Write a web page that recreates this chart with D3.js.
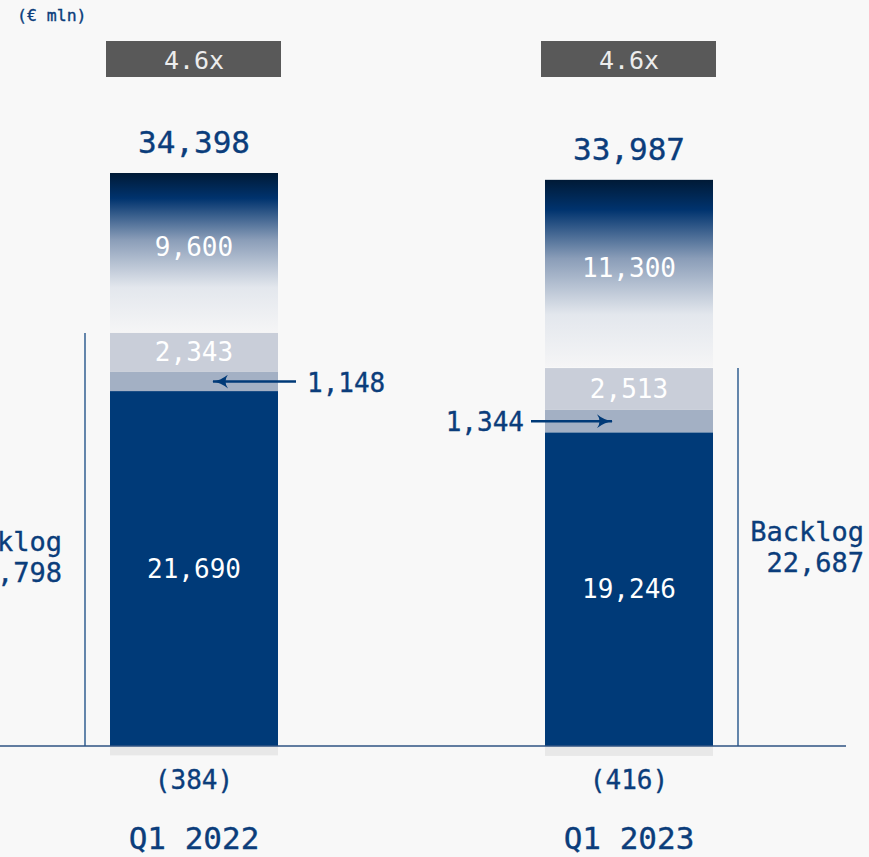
<!DOCTYPE html>
<html>
<head>
<meta charset="utf-8">
<script src="https://cdn.jsdelivr.net/npm/d3@7"></script>
<style>
  body { margin: 0; background: #f8f8f8; }
  svg { display: block; font-family: "DejaVu Sans Mono", "Liberation Mono", monospace; }
  .navy { fill: #0b3d7b; stroke: #0b3d7b; stroke-width: 0.35px; }
</style>
</head>
<body>
<div id="chart"></div>
<script>
// data (€ mln)
var periods = ["Q1 2022", "Q1 2023"];
var backlogCore = [21690, 19246];   // dark navy part
var backlogMid = [1148, 1344];      // thin band with arrow
var backlogLight = [2343, 2513];    // light band
var pipeline = [9600, 11300];       // gradient top
var negatives = [384, 416];         // shown below the axis
var totals = [34398, 33987];
var backlogTotals = [24798, 22687];
var coverage = ["4.6x", "4.6x"];

var width = 869, height = 857;
var navy = "#003a78";

var svg = d3.select("#chart").append("svg")
  .attr("width", width).attr("height", height);

svg.append("rect").attr("width", width).attr("height", height).attr("fill", "#f8f8f8");

var defs = svg.append("defs");
var grad = defs.append("linearGradient").attr("id", "pipe")
  .attr("x1", 0).attr("y1", 0).attr("x2", 0).attr("y2", 1);
[[0, "#001a36"], [0.16, "#00336e"], [0.42, "#8a9db8"], [0.72, "#e3e7ed"], [1, "#f5f5f6"]]
  .forEach(function (s) {
    grad.append("stop").attr("offset", s[0]).attr("stop-color", s[1]);
  });

defs.append("marker").attr("id", "arr")
  .attr("viewBox", "0 0 16 14").attr("refX", 15).attr("refY", 7)
  .attr("markerWidth", 16).attr("markerHeight", 14)
  .attr("markerUnits", "userSpaceOnUse").attr("orient", "auto")
  .append("path").attr("d", "M0,0 Q7,6 16,7 Q7,8 0,14 Q5,7 0,0Z").attr("fill", navy);

// scales
var x = d3.scalePoint().domain(periods).range([194, 629]);
var y = d3.scaleLinear().domain([0, 34397]).range([746, 173]);
var barW = 168;

// build stacked segments
var rows = periods.map(function (p, i) {
  var c1 = backlogCore[i] - negatives[i];
  var m1 = c1 + backlogMid[i];
  var l1 = m1 + backlogLight[i];
  var t1 = l1 + pipeline[i];
  return { p: p, i: i, c1: c1, m1: m1, l1: l1, t1: t1 };
});

// "(€ mln)"
svg.append("text").attr("x", 17).attr("y", 21).attr("class", "navy")
  .attr("font-size", 16.5).attr("stroke-width", 0.2).text("(€ mln)");

var g = svg.selectAll(".bar").data(rows).enter().append("g").attr("class", "bar");

// below-axis negative
g.append("rect")
  .attr("x", function (d) { return x(d.p) - barW / 2; })
  .attr("y", y(0))
  .attr("width", barW)
  .attr("height", function (d) { return y(-negatives[d.i]) - y(0) + 3; })
  .attr("fill", "#e8e8e8");

// core
g.append("rect")
  .attr("x", function (d) { return x(d.p) - barW / 2; })
  .attr("y", function (d) { return y(d.c1); })
  .attr("width", barW)
  .attr("height", function (d) { return y(0) - y(d.c1); })
  .attr("fill", navy);
// mid band
g.append("rect")
  .attr("x", function (d) { return x(d.p) - barW / 2; })
  .attr("y", function (d) { return y(d.m1); })
  .attr("width", barW)
  .attr("height", function (d) { return y(d.c1) - y(d.m1); })
  .attr("fill", "#a3b0c4");
// light band
g.append("rect")
  .attr("x", function (d) { return x(d.p) - barW / 2; })
  .attr("y", function (d) { return y(d.l1); })
  .attr("width", barW)
  .attr("height", function (d) { return y(d.m1) - y(d.l1); })
  .attr("fill", "#c9ced9");
// pipeline gradient
g.append("rect")
  .attr("x", function (d) { return x(d.p) - barW / 2; })
  .attr("y", function (d) { return y(d.t1); })
  .attr("width", barW)
  .attr("height", function (d) { return y(d.l1) - y(d.t1) - 1; })
  .attr("fill", "url(#pipe)");

var fmt = d3.format(",");

// inner labels
g.append("text").attr("x", function (d) { return x(d.p); })
  .attr("y", function (d) { return (y(d.t1) + y(d.l1)) / 2 - 6; })
  .text(function (d) { return fmt(pipeline[d.i]); });
g.append("text").attr("x", function (d) { return x(d.p); })
  .attr("y", function (d) { return (y(d.l1) + y(d.m1)) / 2; })
  .text(function (d) { return fmt(backlogLight[d.i]); });
g.append("text").attr("x", function (d) { return x(d.p); })
  .attr("y", function (d) { return (y(d.c1) + y(0)) / 2; })
  .text(function (d) { return fmt(backlogCore[d.i]); });
g.selectAll("text").attr("text-anchor", "middle").attr("dominant-baseline", "central")
  .attr("font-size", 26).attr("fill", "#ffffff");

// totals
g.append("text").attr("x", function (d) { return x(d.p); })
  .attr("y", function (d) { return y(d.t1) - 20; })
  .attr("text-anchor", "middle").attr("font-size", 31).attr("class", "navy")
  .text(function (d) { return fmt(totals[d.i]); });

// coverage boxes
g.append("rect").attr("x", function (d) { return x(d.p) - 88; })
  .attr("y", 41).attr("width", 175).attr("height", 36).attr("fill", "#595959");
g.append("text").attr("x", function (d) { return x(d.p); })
  .attr("y", 60).attr("text-anchor", "middle").attr("dominant-baseline", "central")
  .attr("font-size", 25).attr("fill", "#ececec")
  .text(function (d) { return coverage[d.i]; });

// negative + period labels
g.append("text").attr("x", function (d) { return x(d.p); })
  .attr("y", 780).attr("text-anchor", "middle").attr("dominant-baseline", "central")
  .attr("font-size", 26).attr("class", "navy")
  .text(function (d) { return "(" + negatives[d.i] + ")"; });
g.append("text").attr("x", function (d) { return x(d.p); })
  .attr("y", 838).attr("text-anchor", "middle").attr("dominant-baseline", "central")
  .attr("font-size", 31).attr("class", "navy")
  .text(function (d) { return d.p; });

// backlog brackets
var backlogX = [85, 738];
var backlogLabelX = [62, 864];
var backlogLabelY = [541, 531];
g.append("line")
  .attr("x1", function (d) { return backlogX[d.i]; })
  .attr("x2", function (d) { return backlogX[d.i]; })
  .attr("y1", function (d) { return y(backlogTotals[d.i]); })
  .attr("y2", y(0))
  .attr("stroke", navy).attr("stroke-width", 1.2);
var bl = g.append("text")
  .attr("text-anchor", "end")
  .attr("font-size", 27).attr("class", "navy");
bl.append("tspan")
  .attr("x", function (d) { return backlogLabelX[d.i]; })
  .attr("y", function (d) { return backlogLabelY[d.i]; })
  .attr("dominant-baseline", "central")
  .text("Backlog");
bl.append("tspan")
  .attr("x", function (d) { return backlogLabelX[d.i]; })
  .attr("y", function (d) { return backlogLabelY[d.i] + 31; })
  .attr("dominant-baseline", "central")
  .text(function (d) { return fmt(backlogTotals[d.i]); });

// arrows pointing at the mid band
g.append("line")
  .attr("x1", function (d) { return d.i === 0 ? x(d.p) + barW / 2 + 18 : x(d.p) - barW / 2 - 14; })
  .attr("x2", function (d) { return d.i === 0 ? x(d.p) + 19 : x(d.p) - 17; })
  .attr("y1", function (d) { return (y(d.c1) + y(d.m1)) / 2; })
  .attr("y2", function (d) { return (y(d.c1) + y(d.m1)) / 2; })
  .attr("stroke", navy).attr("stroke-width", 2.5)
  .attr("marker-end", "url(#arr)");
g.append("text")
  .attr("x", function (d) { return d.i === 0 ? x(d.p) + barW / 2 + 29 : x(d.p) - barW / 2 - 21; })
  .attr("y", function (d) { return (y(d.c1) + y(d.m1)) / 2 + 1; })
  .attr("text-anchor", function (d) { return d.i === 0 ? "start" : "end"; })
  .attr("dominant-baseline", "central")
  .attr("font-size", 26).attr("class", "navy")
  .text(function (d) { return fmt(backlogMid[d.i]); });

// axis line
svg.append("line").attr("x1", 0).attr("x2", 846)
  .attr("y1", y(0)).attr("y2", y(0))
  .attr("stroke", "#2f5383").attr("stroke-width", 1.5);
</script>
</body>
</html>
